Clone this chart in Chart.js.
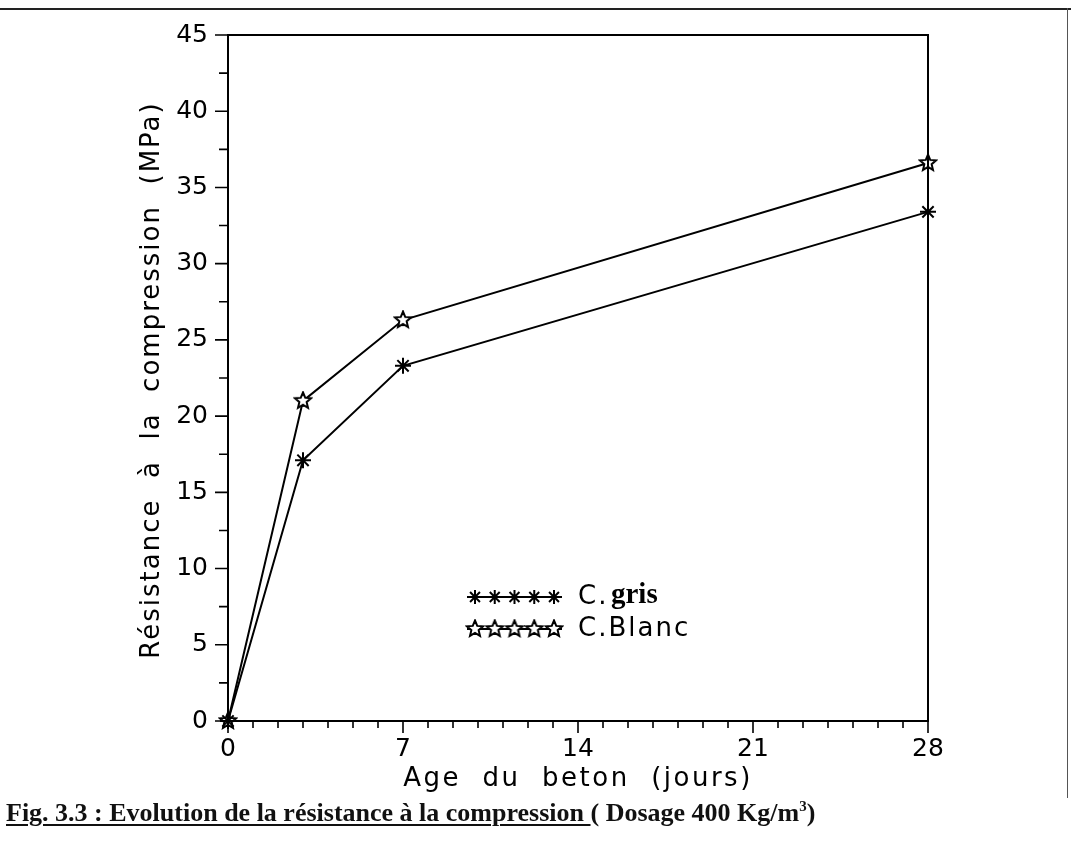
<!DOCTYPE html>
<html>
<head>
<meta charset="utf-8">
<script src="https://cdn.jsdelivr.net/npm/chart.js@4.4.1/dist/chart.umd.min.js"></script>
<style>
  html, body { margin: 0; padding: 0; background: #fff; }
  #wrap { position: relative; width: 1071px; height: 845px; overflow: hidden; }
  #wrap canvas { position: absolute; left: 0; top: 0; }
  .page-top { position: absolute; left: 0; top: 8px; width: 1071px; border-top: 2px solid #222; }
  .page-right { position: absolute; right: 3px; top: 8px; height: 790px; border-right: 1px solid #555; }
  .caption {
    position: absolute; left: 6px; top: 798px;
    font-family: "Liberation Serif", "Times New Roman", serif;
    font-weight: bold; font-size: 26px; color: #111; white-space: nowrap;
  }
  .caption u { text-decoration-thickness: 2px; text-underline-offset: 3px; }
</style>
</head>
<body>
<div id="wrap">
  <div class="page-top"></div>
  <div class="page-right"></div>
  <canvas id="chart" width="1071" height="845"></canvas>
  <div class="caption"><u>Fig. 3.3 : Evolution de la résistance à la compression </u>( Dosage 400 Kg/m<sup style="font-size:15px">3</sup>)</div>
</div>
<script>
// data
const ages = [0, 3, 7, 28];               // age du beton (jours)
const grisValues = [0, 17.1, 23.3, 33.4]; // C. gris (MPa)
const blancValues = [0, 21.0, 26.3, 36.6]; // C.Blanc (MPa)
const xLabelTicks = [0, 7, 14, 21, 28];
const yLabelTicks = [0, 5, 10, 15, 20, 25, 30, 35, 40, 45];

const xTitle = 'Age  du  beton  (jours)';
const yTitle = 'Résistance  à  la  compression  (MPa)';

// hollow five point star used as marker for C.Blanc
function makeStar(size) {
  const c = document.createElement('canvas');
  c.width = size; c.height = size;
  const g = c.getContext('2d');
  const cx = size / 2, cy = size / 2, R = size / 2 - 1.5, r = R * 0.45;
  g.beginPath();
  for (let i = 0; i < 10; i++) {
    const a = -Math.PI / 2 + i * Math.PI / 5;
    const rr = i % 2 === 0 ? R : r;
    g.lineTo(cx + rr * Math.cos(a), cy + rr * Math.sin(a));
  }
  g.closePath();
  g.fillStyle = '#fff';
  g.fill();
  g.lineWidth = 2;
  g.strokeStyle = '#000';
  g.stroke();
  return c;
}
const starImg = makeStar(20);

const FONT = '"DejaVu Sans", sans-serif';
const tickFont = { family: FONT, size: 25, weight: 'normal' };

// frame, tick marks, axis titles and legend
const framePlugin = {
  id: 'frame',
  afterDraw(chart) {
    const { ctx, chartArea: a, scales: { x, y } } = chart;
    ctx.save();
    ctx.strokeStyle = '#000';
    ctx.lineWidth = 2;
    ctx.strokeRect(a.left, a.top, a.right - a.left, a.bottom - a.top);

    // x ticks, every day, longer on weeks
    ctx.lineWidth = 1.6;
    ctx.beginPath();
    for (let d = 0; d <= 28; d++) {
      const px = x.getPixelForValue(d);
      const len = d % 7 === 0 ? 12 : 7;
      ctx.moveTo(px, a.bottom);
      ctx.lineTo(px, a.bottom + len);
    }
    // y ticks, every 2.5 MPa
    for (let v = 0; v <= 45; v += 2.5) {
      const py = y.getPixelForValue(v);
      const len = v % 5 === 0 ? 13 : 9;
      ctx.moveTo(a.left, py);
      ctx.lineTo(a.left - len, py);
    }
    ctx.stroke();

    // axis titles (spaced out like the plotter font)
    ctx.fillStyle = '#000';
    ctx.font = '26px ' + FONT;
    ctx.textAlign = 'center';
    ctx.textBaseline = 'middle';
    ctx.letterSpacing = '2.5px';
    ctx.fillText(xTitle, (a.left + a.right) / 2, 779);
    ctx.save();
    ctx.translate(152, (a.top + a.bottom) / 2 + 2);
    ctx.rotate(-Math.PI / 2);
    ctx.letterSpacing = '2px';
    ctx.fillText(yTitle, 0, 0);
    ctx.restore();

    // legend
    const lx0 = 467, lx1 = 562;
    const rows = [
      { y: 597, label: 'gris', marker: 'star', bold: true },
      { y: 629, label: 'Blanc', marker: 'img', bold: false }
    ];
    rows.forEach(r => {
      ctx.lineWidth = 2;
      ctx.beginPath();
      ctx.moveTo(lx0, r.y);
      ctx.lineTo(lx1, r.y);
      ctx.stroke();
      for (let i = 0; i < 5; i++) {
        const mx = lx0 + 8 + i * ((lx1 - lx0 - 16) / 4);
        if (r.marker === 'img') {
          ctx.drawImage(starImg, mx - 10, r.y - 10);
        } else {
          ctx.beginPath();
          for (let k = 0; k < 4; k++) {
            const ang = k * Math.PI / 4;
            ctx.moveTo(mx - 7 * Math.cos(ang), r.y - 7 * Math.sin(ang));
            ctx.lineTo(mx + 7 * Math.cos(ang), r.y + 7 * Math.sin(ang));
          }
          ctx.stroke();
        }
      }
      ctx.textAlign = 'left';
      ctx.letterSpacing = '2px';
      ctx.font = '26px ' + FONT;
      if (r.bold) {
        ctx.fillText('C.', 578, r.y);
        ctx.letterSpacing = '0px';
        ctx.font = 'bold 29px "Liberation Serif", serif';
        ctx.fillText(r.label, 611, r.y - 1);
      } else {
        ctx.fillText('C.' + r.label, 578, r.y);
      }
    });
    ctx.restore();
  }
};

new Chart(document.getElementById('chart'), {
  type: 'line',
  data: {
    datasets: [
      {
        label: 'C. gris',
        data: ages.map((a, i) => ({ x: a, y: grisValues[i] })),
        borderColor: '#000',
        borderWidth: 2,
        pointStyle: 'star',
        pointRadius: 8,
        pointBorderWidth: 2,
        pointBorderColor: '#000',
        tension: 0
      },
      {
        label: 'C.Blanc',
        data: ages.map((a, i) => ({ x: a, y: blancValues[i] })),
        borderColor: '#000',
        borderWidth: 2,
        pointStyle: starImg,
        tension: 0
      }
    ]
  },
  options: {
    responsive: false,
    animation: false,
    clip: false,
    layout: { padding: { left: 0, top: 30, right: 143, bottom: 48 } },
    plugins: { legend: { display: false }, tooltip: { enabled: false } },
    scales: {
      x: {
        type: 'linear',
        min: 0, max: 28,
        afterBuildTicks: s => { s.ticks = xLabelTicks.map(v => ({ value: v })); },
        afterFit: s => { s.height = 845 - 721 - 48; },
        grid: { drawOnChartArea: false, drawTicks: false },
        border: { display: false },
        ticks: { color: '#000', font: tickFont, padding: 13, maxRotation: 0 }
      },
      y: {
        min: 0, max: 45,
        afterBuildTicks: s => { s.ticks = yLabelTicks.map(v => ({ value: v })); },
        afterFit: s => { s.width = 228; },
        grid: { drawOnChartArea: false, drawTicks: false },
        border: { display: false },
        ticks: { color: '#000', font: tickFont, padding: 20 }
      }
    }
  },
  plugins: [framePlugin]
});
</script>
</body>
</html>
